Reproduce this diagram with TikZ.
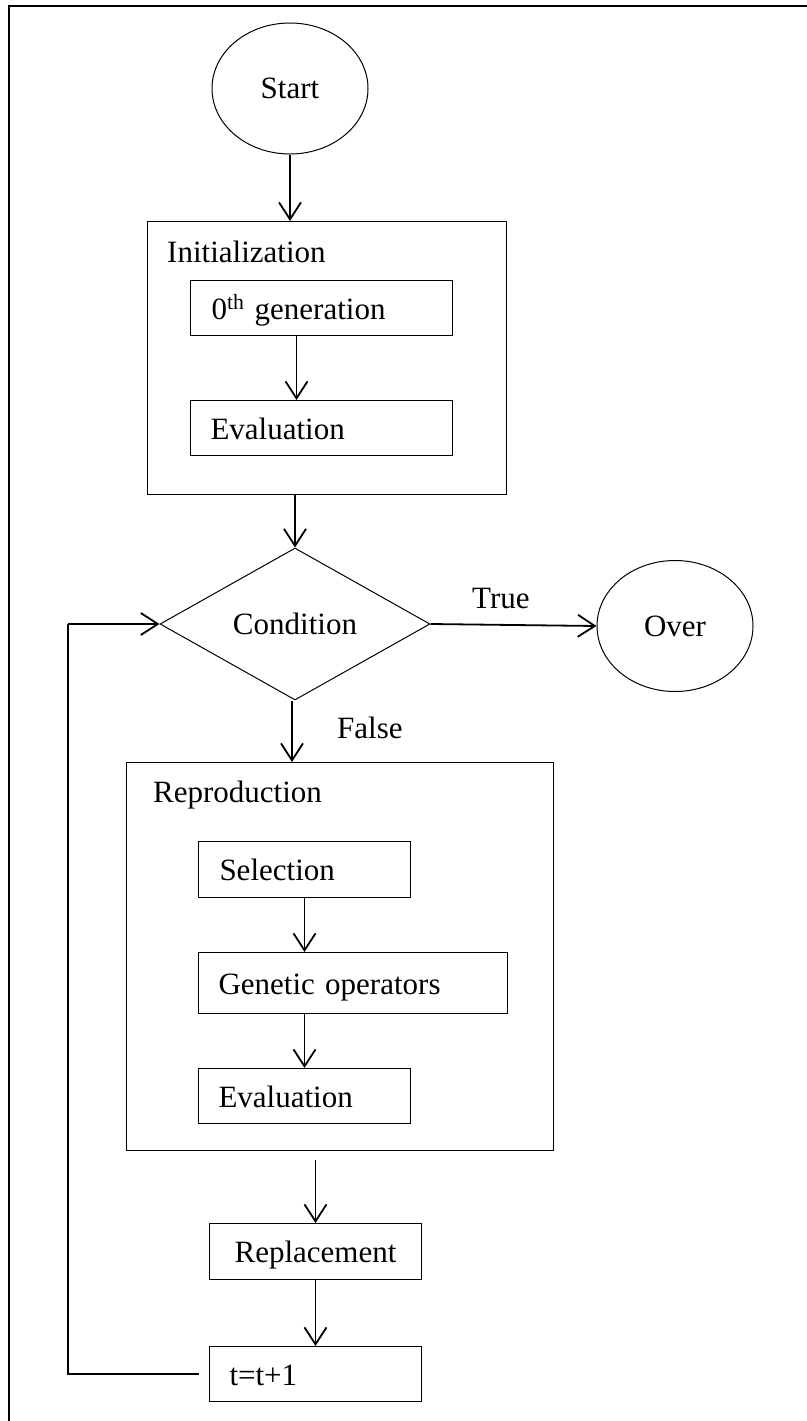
\documentclass[tikz,border=0pt]{standalone}
\usepackage{fontspec}
\setmainfont{Liberation Serif}
\usetikzlibrary{arrows.meta,shapes.geometric}
\begin{document}
\begin{tikzpicture}[x=1pt,y=-1pt,
  every node/.append style={font=\fontsize{31}{37}\selectfont},
  thinline/.style={draw, line width=1pt},
  ibox/.style={thinline, rectangle, inner ysep=0pt, align=left, anchor=north west, text height=28pt, text depth=6pt},
  cbox/.style={thinline, rectangle, inner sep=0pt, anchor=north west, text height=28pt, text depth=6pt},
  frame/.style={thinline, rectangle, inner sep=0pt, anchor=north west},
  lbl/.style={inner sep=0pt, anchor=base west},
  oval/.style={thinline, ellipse, inner sep=0pt, minimum width=156pt, minimum height=131pt},
  arr/.style={line width=1.8pt, -{Straight Barb[length=17pt,width=22pt]}},
  plain/.style={line width=1.8pt}
]
\useasboundingbox (0,0) rectangle (806,1421);
% outer frame (only top and left edges inside the picture)
\draw[line width=2pt] (9,1430) -- (9,6) -- (815,6);

\node[oval] (start) at (290,88.5) {Start};

\node[frame, minimum width=359pt, minimum height=273pt] (init) at (147,221) {};
\node[lbl] (initlbl) at (167,262) {Initialization};
\node[ibox, text width=220pt, inner xsep=21pt, minimum height=55pt] (gen0) at (190,280) {0\textsuperscript{th} generation};
\node[ibox, text width=222pt, inner xsep=20pt, minimum height=55pt] (eval1) at (190,400) {Evaluation};

\node[thinline, diamond, inner sep=0pt, aspect=1.78, minimum width=270pt, minimum height=152pt] (cond) at (295,624) {Condition};
\node[oval] (over) at (675,626) {Over};

\node[frame, minimum width=427pt, minimum height=388pt] (repro) at (126,762) {};
\node[lbl] (reprolbl) at (153,802) {Reproduction};
\node[ibox, text width=170pt, inner xsep=21pt, minimum height=56pt] (sel) at (198,841) {Selection};
\node[ibox, text width=269pt, inner xsep=20pt, minimum height=61pt] (gen) at (198,952) {Genetic operators};
\node[ibox, text width=172pt, inner xsep=20pt, minimum height=55pt] (eval2) at (198,1068) {Evaluation};

\node[cbox, minimum width=212pt, minimum height=56pt] (repl) at (209,1223) {Replacement};
\node[ibox, text width=172pt, inner xsep=20pt, minimum height=55pt] (tinc) at (209,1346) {t=t+1};

\coordinate (loopc) at (68,624);

% connectors
\draw[arr] (start.south) -- (start.south |- init.north);
\draw[arr] (cond.north |- init.south) -- (cond.north);
\draw[arr] ([xshift=-25pt]gen0.south) -- ([xshift=-25pt]gen0.south |- eval1.north);
\draw[arr] (cond.east) -- (over.west);
\node[lbl] (truelbl) at (472,608) {True};
\draw[arr] ([xshift=-3pt]cond.south) -- ([xshift=-3pt]cond.south |- repro.north);
\node[lbl] (falselbl) at (337,738) {False};
\draw[arr] (sel.south) -- (sel.south |- gen.north);
\draw[arr] (eval2.north |- gen.south) -- (eval2.north);
\draw[arr] ([yshift=-9pt]repl.north |- repro.south) -- (repl.north);
\draw[arr] (repl.south) -- (tinc.north);
\draw[plain] ([xshift=-10pt]tinc.west) -| (loopc);
\draw[arr] (loopc) -- (cond.west);
\end{tikzpicture}
\end{document}
